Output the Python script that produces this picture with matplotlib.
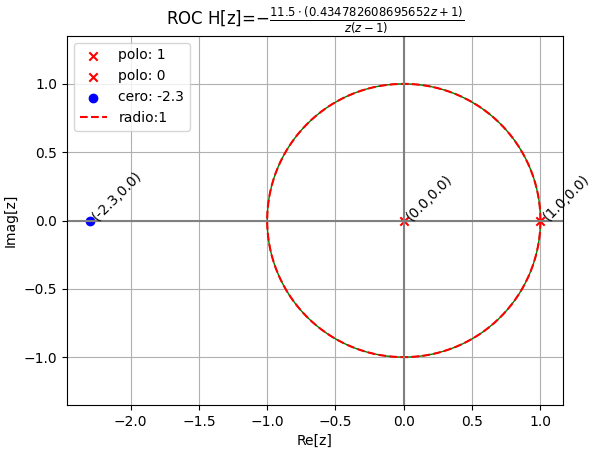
import numpy as np
import matplotlib.pyplot as plt

# poles / zeros of H[z]
polos = [1.0, 0.0]
ceros = [-2.3]
radio = 1
titulo = r'ROC H[z]=$-\frac{11.5 \cdot \left(0.434782608695652 z + 1\right)}{z \left(z - 1\right)}$'

fig = plt.figure(figsize=(5.94, 4.54), dpi=100)
ax = fig.add_axes([67/594, 49/454, 496/594, 369/454])

# ROC circle
theta = np.linspace(0, 2*np.pi, 400)
ax.plot(radio*np.cos(theta), radio*np.sin(theta), color='green', lw=1)

for p in polos:
    ax.scatter(p, 0, marker='x', color='red', label='polo: %g' % p)
    ax.annotate('(%.1f,%.1f)' % (p, 0.0), (p, 0), rotation=45)
for c in ceros:
    ax.scatter(c, 0, marker='o', color='blue', label='cero: %g' % c)
    ax.annotate('(%.1f,%.1f)' % (c, 0.0), (c, 0), rotation=45)

ax.plot(radio*np.cos(theta), radio*np.sin(theta), 'r--', label='radio:%d' % radio)

ax.axhline(0, color='gray')
ax.axvline(0, color='gray')
ax.axis('equal')
ax.grid(True)
ax.legend(loc='upper left')
ax.set_title(titulo)
ax.set_xlabel('Re[z]')
ax.set_ylabel('Imag[z]')

fig.savefig('out.png', dpi=100)
